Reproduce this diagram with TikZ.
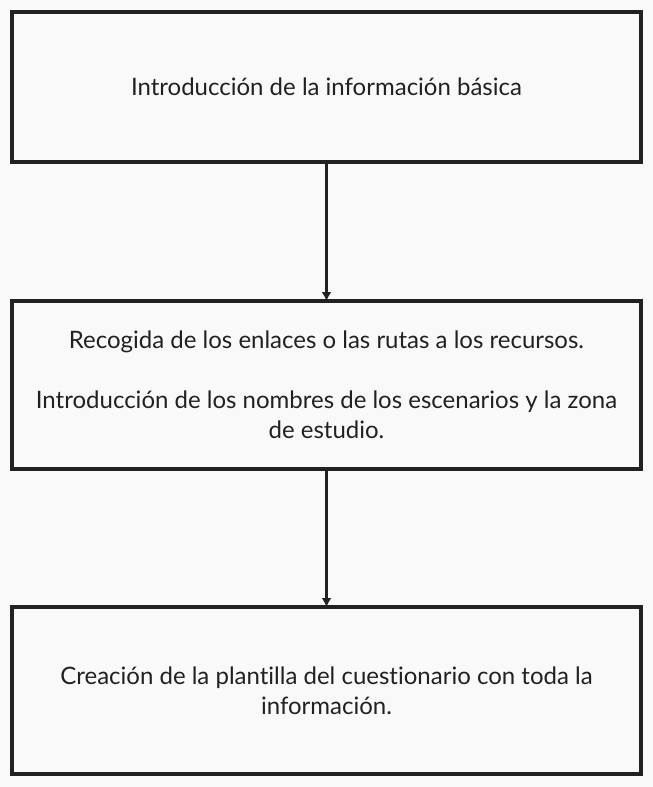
\documentclass[tikz,border=0pt]{standalone}
\usepackage{fontspec}
\setmainfont[Ligatures={NoCommon}]{Lato}
\usepackage{tikz}
\usetikzlibrary{shapes,arrows.meta}
\definecolor{flowline}{rgb}{0.13,0.13,0.13}
\definecolor{flowback}{rgb}{0.976,0.976,0.976}
\tikzstyle{flowbox}=[rectangle, draw=flowline, line width=4pt, outer sep=0pt, minimum width=629pt, align=center, font=\fontsize{24}{30}\selectfont, text=flowline]
\tikzstyle{flowarrow}=[draw=flowline, line width=3pt, -{Latex[length=9pt,width=10pt]}]
\newcommand{\flowbox}[4]{
	\node[flowbox, minimum height=#3] (#1) at (#2) {#4};}

\begin{document}
\begin{tikzpicture}[x=1pt,y=-1pt]
	\fill[flowback] (0,0) rectangle (653,787);
	\useasboundingbox (0,0) rectangle (653,787);

	\flowbox{intro}{326.5,87}{150pt}{Introducción de la información básica}
	\flowbox{recog}{326.5,385}{168pt}{Recogida de los enlaces o las rutas a los recursos.\\[30pt]Introducción de los nombres de los escenarios y la zona\\de estudio.}
	\flowbox{plant}{326.5,690.5}{167pt}{Creación de la plantilla del cuestionario con toda la\\información.}

	\path[flowarrow] (intro) -- (recog);
	\path[flowarrow] (recog) -- (plant);
\end{tikzpicture}
\end{document}
